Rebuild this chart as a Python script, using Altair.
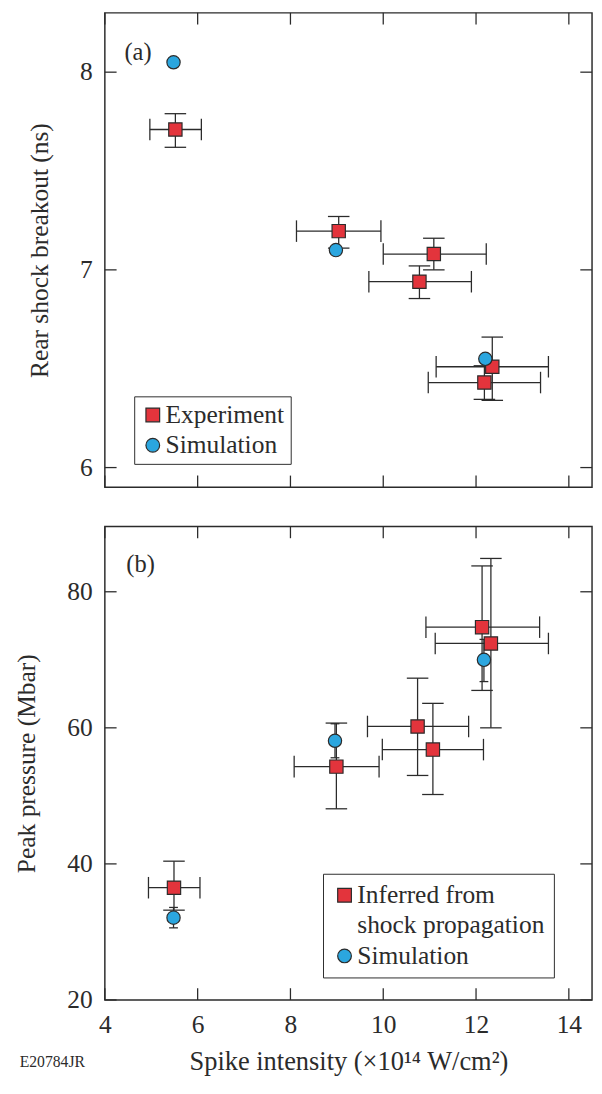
import altair as alt
import pandas as pd

RED = "#e3343c"
BLUE = "#2ba6df"
INK = "#2b2b2b"
FONT = "Liberation Serif"
FS = 26

X_DOMAIN = [4, 14.5]
x_ticks = [4, 6, 8, 10, 12, 14]

# ---- panel (a): rear shock breakout (ns) ----
a_exp_x = [5.52, 9.04, 11.09, 10.78, 12.18, 12.35]
a_exp_xlo = [4.97, 8.13, 10.00, 9.69, 10.97, 11.14]
a_exp_xhi = [6.08, 9.95, 12.22, 11.90, 13.39, 13.56]
a_exp_y = [7.71, 7.196, 7.08, 6.94, 6.43, 6.51]
a_exp_ylo = [7.62, 7.11, 7.00, 6.855, 6.345, 6.34]
a_exp_yhi = [7.79, 7.27, 7.16, 7.02, 6.515, 6.66]
a_sim_x = [5.48, 8.98, 12.20]
a_sim_y = [8.05, 7.10, 6.55]
a_y_domain = [5.9, 8.3]
a_y_ticks = [6, 7, 8]

# ---- panel (b): peak pressure (Mbar) ----
b_exp_x = [5.49, 8.99, 10.74, 11.07, 12.13, 12.32]
b_exp_xlo = [4.94, 8.08, 9.66, 9.98, 10.92, 11.12]
b_exp_xhi = [6.05, 9.91, 11.84, 12.16, 13.37, 13.56]
b_exp_y = [36.5, 54.3, 60.2, 56.8, 74.8, 72.4]
b_exp_ylo = [33.2, 48.1, 53.0, 50.2, 65.5, 60.0]
b_exp_yhi = [40.4, 60.7, 67.3, 63.6, 83.8, 84.9]
b_sim_x = [5.48, 8.96, 12.17]
b_sim_y = [32.1, 58.1, 70.0]
b_sim_ylo = [30.6, 55.6, 66.8]
b_sim_yhi = [33.6, 60.6, 73.0]
b_y_domain = [20, 89.6]
b_y_ticks = [20, 40, 60, 80]

W = 498
TICK = 12
CAP = 22
SIM_CAP = 9
LW = 1.3


def panel(exp, sim, ydom, yticks, ytitle, tag, tag_xy, domain, colors, shapes,
          leg_xy, leg_pad, leg_expr, H, bottom):
    xscale = alt.Scale(domain=X_DOMAIN, nice=False, zero=False)
    yscale = alt.Scale(domain=ydom, nice=False, zero=False)
    if bottom:
        xaxis = alt.Axis(title="Spike intensity (×10¹⁴ W/cm²)", values=x_ticks,
                         ticks=False, tickSize=0, domain=False, grid=False,
                         labelPadding=12, titlePadding=12, titleFontSize=27,
                         labelFlush=False)
    else:
        xaxis = None
    yaxis = alt.Axis(title=ytitle, values=yticks, ticks=False, tickSize=0,
                     domain=False, grid=False, labelPadding=13, titlePadding=28,
                     labelFlush=False)

    def X(f):
        return alt.X(f, type="quantitative", scale=xscale, axis=xaxis)

    def Y(f):
        return alt.Y(f, type="quantitative", scale=yscale, axis=yaxis)

    layers = []
    e = alt.Chart(exp)
    layers.append(e.mark_rule(color=INK, strokeWidth=LW).encode(x=X("xlo"), x2="xhi", y=Y("y")))
    layers.append(e.mark_rule(color=INK, strokeWidth=LW).encode(x=X("x"), y=Y("ylo"), y2="yhi"))
    vt = dict(orient="vertical", size=CAP, thickness=LW, color=INK, opacity=1)
    ht = dict(orient="horizontal", size=CAP, thickness=LW, color=INK, opacity=1)
    layers.append(e.mark_tick(**vt).encode(x=X("xlo"), y=Y("y")))
    layers.append(e.mark_tick(**vt).encode(x=X("xhi"), y=Y("y")))
    layers.append(e.mark_tick(**ht).encode(x=X("x"), y=Y("ylo")))
    layers.append(e.mark_tick(**ht).encode(x=X("x"), y=Y("yhi")))
    if "ylo" in sim.columns:
        s = alt.Chart(sim)
        sht = dict(orient="horizontal", size=SIM_CAP, thickness=LW, color=INK, opacity=1)
        layers.append(s.mark_rule(color=INK, strokeWidth=LW).encode(x=X("x"), y=Y("ylo"), y2="yhi"))
        layers.append(s.mark_tick(**sht).encode(x=X("x"), y=Y("ylo")))
        layers.append(s.mark_tick(**sht).encode(x=X("x"), y=Y("yhi")))

    pts = pd.concat([exp[["x", "y", "series"]], sim[["x", "y", "series"]]], ignore_index=True)
    leg = alt.Legend(title=None, orient="none", legendX=leg_xy[0], legendY=leg_xy[1],
                     strokeColor=INK, fillColor="white", padding=leg_pad, rowPadding=5,
                     labelFont=FONT, labelFontSize=FS, labelColor=INK, labelOffset=0,
                     labelLimit=0, labelExpr=leg_expr, symbolSize=196,
                     symbolStrokeWidth=1.2, symbolOpacity=1)
    layers.append(
        alt.Chart(pts).mark_point(filled=True, size=185, strokeWidth=1.2, opacity=1).encode(
            x=X("x"), y=Y("y"),
            color=alt.Color("series:N", scale=alt.Scale(domain=domain, range=colors), legend=leg),
            shape=alt.Shape("series:N", scale=alt.Scale(domain=domain, range=shapes), legend=leg),
            stroke=alt.Stroke("series:N", scale=alt.Scale(domain=domain, range=[INK] * len(domain)), legend=leg),
        )
    )

    # inward frame ticks
    xt = alt.Chart(pd.DataFrame({"v": x_ticks}))
    layers.append(xt.mark_rule(color=INK, strokeWidth=LW).encode(x=X("v"), y=alt.value(H - TICK), y2=alt.value(H)))
    layers.append(xt.mark_rule(color=INK, strokeWidth=LW).encode(x=X("v"), y=alt.value(0), y2=alt.value(TICK)))
    yt = alt.Chart(pd.DataFrame({"v": yticks}))
    layers.append(yt.mark_rule(color=INK, strokeWidth=LW).encode(y=Y("v"), x=alt.value(0), x2=alt.value(TICK)))
    layers.append(yt.mark_rule(color=INK, strokeWidth=LW).encode(y=Y("v"), x=alt.value(W - TICK), x2=alt.value(W)))

    layers.append(
        alt.Chart(pd.DataFrame({"t": [tag]})).mark_text(
            font=FONT, fontSize=25, color=INK, align="left", baseline="middle"
        ).encode(text="t:N", x=alt.value(tag_xy[0]), y=alt.value(tag_xy[1]))
    )
    if bottom:
        layers.append(
            alt.Chart(pd.DataFrame({"t": ["E20784JR"]})).mark_text(
                font=FONT, fontSize=16, color=INK, align="left", baseline="alphabetic"
            ).encode(text="t:N", x=alt.value(-87), y=alt.value(H + 69))
        )

    return alt.layer(*layers).properties(width=W, height=H)


a_exp = pd.DataFrame({"x": a_exp_x, "xlo": a_exp_xlo, "xhi": a_exp_xhi,
                      "y": a_exp_y, "ylo": a_exp_ylo, "yhi": a_exp_yhi,
                      "series": "Experiment"})
a_sim = pd.DataFrame({"x": a_sim_x, "y": a_sim_y, "series": "Simulation"})
b_exp = pd.DataFrame({"x": b_exp_x, "xlo": b_exp_xlo, "xhi": b_exp_xhi,
                      "y": b_exp_y, "ylo": b_exp_ylo, "yhi": b_exp_yhi,
                      "series": "Inferred from"})
b_sim = pd.DataFrame({"x": b_sim_x, "y": b_sim_y, "ylo": b_sim_ylo, "yhi": b_sim_yhi,
                      "series": "Simulation"})

top = panel(a_exp, a_sim, a_y_domain, a_y_ticks, "Rear shock breakout (ns)", "(a)", (20, 40),
            ["Experiment", "Simulation"], [RED, BLUE], ["square", "circle"],
            (30, 392), 6, "datum.label + '\u2009'", 485, False)
bot = panel(b_exp, b_sim, b_y_domain, b_y_ticks, "Peak pressure (Mbar)", "(b)", (22, 39),
            ["Inferred from", "shock propagation", "Simulation"], [RED, "white", BLUE],
            ["square", "M0,0", "circle"], (223, 355), 9, "datum.label", 484, True)

chart = alt.vconcat(top, bot, spacing=36).resolve_scale(
    x="independent", y="independent", color="independent", shape="independent",
    stroke="independent"
).resolve_legend(color="independent", shape="independent", stroke="independent").properties(
    padding={"left": 5, "top": -9, "right": 0, "bottom": 0}
).configure(
    background="white"
).configure_view(
    stroke=INK, strokeWidth=1.5, fill="white"
).configure_axis(
    labelFont=FONT, titleFont=FONT, labelFontSize=FS, titleFontSize=FS,
    labelColor=INK, titleColor=INK, titleFontWeight="normal"
).configure_legend(
    labelFont=FONT, labelFontSize=FS, labelColor=INK, labelLimit=0
)

chart.save("out.html", embed_options={"renderer": "svg", "actions": False})
